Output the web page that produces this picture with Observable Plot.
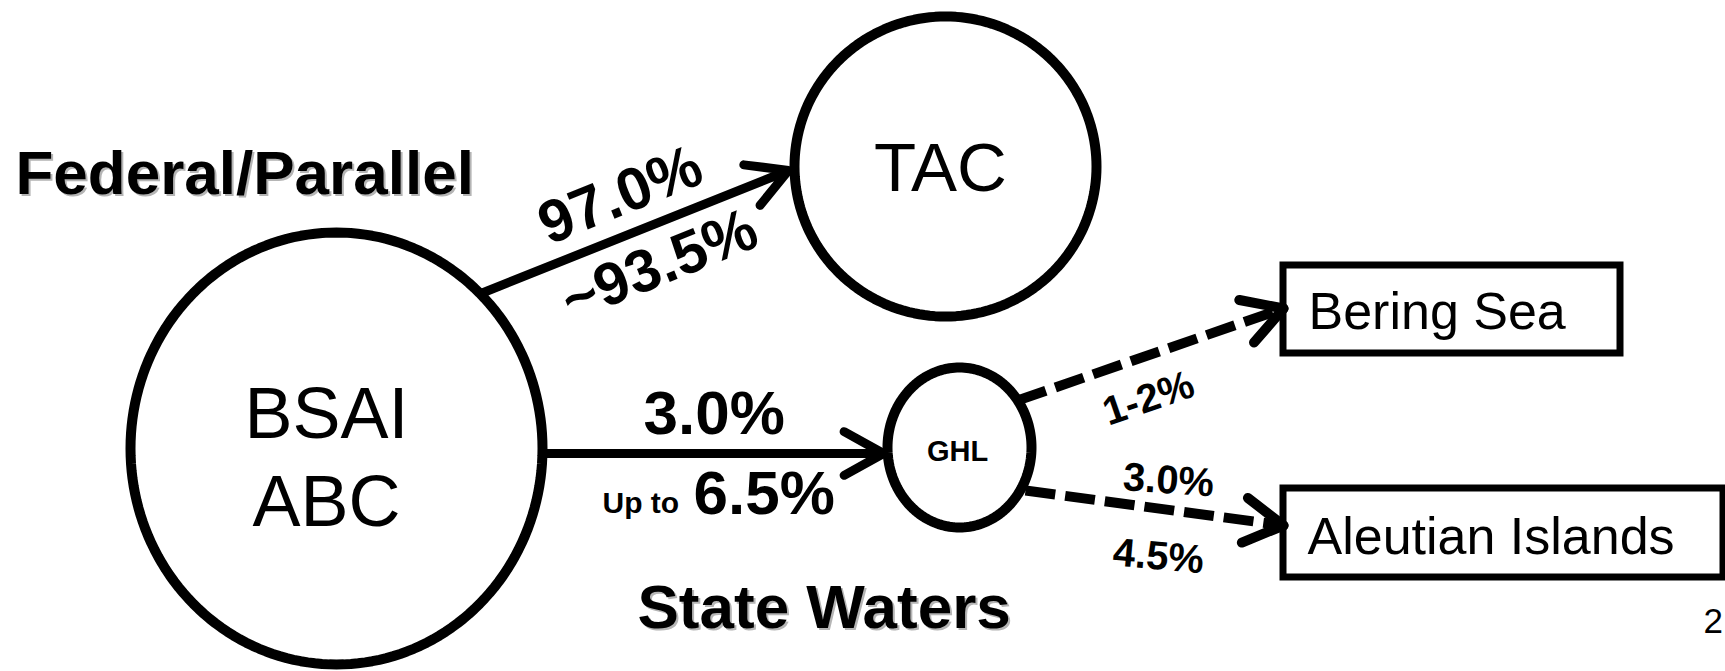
<!DOCTYPE html>
<html><head><meta charset="utf-8">
<script src="https://cdn.jsdelivr.net/npm/d3@7"></script>
<script src="https://cdn.jsdelivr.net/npm/@observablehq/plot@0.6"></script>
<style>html,body{margin:0;padding:0;background:#fff;overflow:hidden}</style>
</head><body><div id="chart"></div>
<script>
const W = 1725, H = 671;

// ---- content ----
const nodeNames = ["BSAI ABC", "TAC", "GHL"];
const nodeLabels = ["BSAI\nABC", "TAC", "GHL"];
const boxNames = ["Bering Sea", "Aleutian Islands"];
const regionLabels = ["Federal/Parallel", "State Waters"];
const flowFrom = ["BSAI ABC", "BSAI ABC", "GHL", "GHL"];
const flowTo = ["TAC", "GHL", "Bering Sea", "Aleutian Islands"];
const flowDashed = [false, false, true, true];
const shareLabels = ["97.0%", "~93.5%", "3.0%", "Up to", "6.5%", "1-2%", "3.0%", "4.5%"];
const pageLabel = ["2"];

// ---- layout (pixel positions, kept apart from the content) ----
const nodeX = [336, 945, 959], nodeY = [448, 166, 447];
const nodeRx = [206, 151, 72], nodeRy = [216, 150, 80];
const nodeTextX = [326, 940, 957], nodeTextY = [525, 190, 460];
const nodeTextSize = [72, 69, 29], nodeTextWeight = ["normal", "normal", "bold"];
const boxX1 = [1283, 1283], boxX2 = [1620, 1723], boxY1 = [265, 488], boxY2 = [353, 577];
const boxTextX = [1308, 1307], boxTextY = [328, 553];
const flowX1 = [483, 542, 1017, 1025], flowY1 = [292, 453, 400, 490];
const flowX2 = [788, 883, 1283, 1283], flowY2 = [170, 453, 308, 525];
const shareX = [620, 659, 643, 602, 693, 1148, 1168, 1158];
const shareY = [195, 265, 433, 512, 513, 398, 480, 556];
const shareSize = [60, 60, 62, 30, 62, 40, 40, 40];
const shareRotate = [-22, -22, 0, 0, 0, -19, 4, 5];
const shareAnchor = ["middle", "middle", "start", "start", "start", "middle", "middle", "middle"];
const shareLine = ["middle", "middle", "bottom", "bottom", "bottom", "middle", "middle", "middle"];
const regionX = [15, 637], regionY = [193, 627];
const FONT = "Liberation Sans, Arial, Helvetica, sans-serif";

// ---- derived tables ----
const ellipsePts = [];
nodeNames.forEach((n, i) => {
  for (let k = 0; k < 180; k++) {
    const t = (k / 180) * 2 * Math.PI;
    ellipsePts.push({node: n, x: nodeX[i] + nodeRx[i] * Math.cos(t), y: nodeY[i] + nodeRy[i] * Math.sin(t)});
  }
});
const nodes = nodeNames.map((n, i) => ({name: n, label: nodeLabels[i], x: nodeTextX[i], y: nodeTextY[i], size: nodeTextSize[i], weight: nodeTextWeight[i]}));
const boxes = boxNames.map((n, i) => ({name: n, x1: boxX1[i], x2: boxX2[i], y1: boxY1[i], y2: boxY2[i], tx: boxTextX[i], ty: boxTextY[i]}));
const flows = flowFrom.map((f, i) => ({from: f, to: flowTo[i], dashed: flowDashed[i], x1: flowX1[i], y1: flowY1[i], x2: flowX2[i], y2: flowY2[i]}));
const solidFlows = flows.filter(d => !d.dashed);
const dashedFlows = flows.filter(d => d.dashed);
const wings = [];
dashedFlows.forEach(d => {
  const a = Math.atan2(d.y2 - d.y1, d.x2 - d.x1), L = 45, s = Math.PI / 6;
  [a + Math.PI - s, a + Math.PI + s].forEach(t => wings.push({x1: d.x2, y1: d.y2, x2: d.x2 + L * Math.cos(t), y2: d.y2 + L * Math.sin(t)}));
});

const shareMarks = shareLabels.map((s, i) => Plot.text([{t: s, x: shareX[i], y: shareY[i]}], {
  x: "x", y: "y", text: "t", fontSize: shareSize[i], fontWeight: "bold", rotate: shareRotate[i],
  textAnchor: shareAnchor[i], lineAnchor: shareLine[i], fill: "#000", fontFamily: FONT
}));
const nodeMarks = nodes.map(d => Plot.text([d], {
  x: "x", y: "y", text: "label", fontSize: d.size, fontWeight: d.weight,
  textAnchor: "middle", lineAnchor: "bottom", lineHeight: 1.222, fill: "#000", fontFamily: FONT
}));

const regions = regionLabels.map((r, i) => ({t: r, x: regionX[i], y: regionY[i]}));

const chart = Plot.plot({
  width: W, height: H, margin: 0,
  x: {domain: [0, W], range: [0, W], axis: null},
  y: {domain: [0, H], range: [0, H], axis: null},
  style: {background: "#fff", fontFamily: FONT},
  marks: [
    // ellipses
    Plot.line(ellipsePts, {x: "x", y: "y", z: "node", curve: "linear-closed", stroke: "#000", strokeWidth: 10}),
    // boxes
    Plot.rect(boxes, {x1: "x1", x2: "x2", y1: "y1", y2: "y2", fill: "#fff", stroke: "#000", strokeWidth: 7}),
    // solid arrows
    Plot.arrow(solidFlows, {x1: "x1", y1: "y1", x2: "x2", y2: "y2", stroke: "#000", strokeWidth: 9, headLength: 7.5, headAngle: 58, strokeLinecap: "round", strokeLinejoin: "miter"}),
    // dashed arrows
    Plot.link(dashedFlows, {x1: "x1", y1: "y1", x2: "x2", y2: "y2", stroke: "#000", strokeWidth: 10, strokeDasharray: "30,10", strokeLinecap: "butt"}),
    Plot.link(wings, {x1: "x1", y1: "y1", x2: "x2", y2: "y2", stroke: "#000", strokeWidth: 10, strokeLinecap: "round"}),
    // node labels
    ...nodeMarks,
    // box labels
    Plot.text(boxes, {x: "tx", y: "ty", text: "name", fontSize: 52, textAnchor: "start", lineAnchor: "bottom", fill: "#000"}),
    // region headings with a faint shadow
    Plot.text(regions, {x: "x", y: "y", text: "t", fontSize: 62, fontWeight: "bold", textAnchor: "start", lineAnchor: "bottom", fill: "#b5b5b5", dx: 2, dy: 2}),
    Plot.text(regions, {x: "x", y: "y", text: "t", fontSize: 62, fontWeight: "bold", textAnchor: "start", lineAnchor: "bottom", fill: "#000"}),
    ...shareMarks,
    Plot.text([{t: pageLabel[0], x: 1703, y: 632}], {x: "x", y: "y", text: "t", fontSize: 35, textAnchor: "start", lineAnchor: "bottom", fill: "#000"})
  ]
});
document.getElementById("chart").appendChild(chart);
</script>
</body></html>
